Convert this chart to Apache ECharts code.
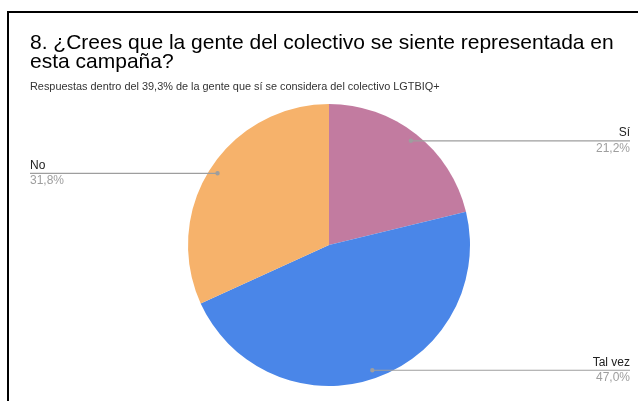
<!DOCTYPE html>
<html>
<head>
<meta charset="utf-8">
<script src="https://cdn.jsdelivr.net/npm/echarts@6/dist/echarts.min.js"></script>
<style>
  html, body { margin: 0; padding: 0; background: #fff; }
  #chart { width: 638px; height: 401px; }
</style>
</head>
<body>
<div id="chart"></div>
<script>
// Survey answers (share of respondents, %)
const categories = ['Sí', 'Tal vez', 'No'];
const values = [21.2, 47.0, 31.8];
const sliceColors = ['#c27ba0', '#4a86e8', '#f6b26b'];
// Which side each label sits on
const labelSides = ['right', 'right', 'left'];

const titleText = '8. ¿Crees que la gente del colectivo se siente representada en\nesta campaña?';
const subtitleText = 'Respuestas dentro del 39,3% de la gente que sí se considera del colectivo LGTBIQ+';

const FONT = '"Liberation Sans", Arial, sans-serif';
const CX = 329, CY = 245, R = 141;
const DOT_R = 0.94 * R;
const LEFT_EDGE = 30, RIGHT_EDGE = 630;
const LEADER_COLOR = '#9e9e9e';

const total = values.reduce((a, b) => a + b, 0);

// Anchor point of each leader line, placed at the slice's mid-angle
function anchorPoints() {
  let cum = 0;
  return values.map(v => {
    const mid = 90 - 360 * (cum + v / 2) / total;
    cum += v;
    const rad = mid * Math.PI / 180;
    return [CX + DOT_R * Math.cos(rad), CY - DOT_R * Math.sin(rad)];
  });
}
const anchors = anchorPoints();

function fmtPct(v) {
  return v.toFixed(1).replace('.', ',') + '%';
}

// Leader lines run horizontally from the anchor dot to the label edge, over the slices
const leaderGraphics = [];
anchors.forEach((p, i) => {
  const endX = labelSides[i] === 'right' ? RIGHT_EDGE : LEFT_EDGE;
  leaderGraphics.push({
    type: 'line',
    z: 100,
    shape: { x1: p[0], y1: p[1], x2: endX, y2: p[1] },
    style: { stroke: LEADER_COLOR, lineWidth: 1.2 }
  });
  leaderGraphics.push({
    type: 'circle',
    z: 101,
    shape: { cx: p[0], cy: p[1], r: 2.2 },
    style: { fill: LEADER_COLOR }
  });
});

const chart = echarts.init(document.getElementById('chart'), null, { renderer: 'canvas' });

chart.setOption({
  animation: false,
  backgroundColor: '#fff',
  title: [
    {
      text: titleText,
      left: 30,
      top: 34,
      padding: 0,
      textStyle: { fontFamily: FONT, fontSize: 21, fontWeight: 'normal', color: '#000', lineHeight: 19 }
    },
    {
      text: subtitleText,
      left: 30,
      top: 81,
      padding: 0,
      textStyle: { fontFamily: FONT, fontSize: 10.9, fontWeight: 'normal', color: '#333', lineHeight: 12 }
    }
  ],
  graphic: [
    {
      type: 'polyline',
      shape: { points: [[8, 401], [8, 12], [638, 12]] },
      style: { stroke: '#000', lineWidth: 2, fill: null }
    }
  ].concat(leaderGraphics),
  series: [
    {
      type: 'pie',
      center: [CX, CY],
      radius: R,
      startAngle: 90,
      clockwise: true,
      avoidLabelOverlap: false,
      data: categories.map((name, i) => ({
        name: name,
        value: values[i],
        itemStyle: { color: sliceColors[i] }
      })),
      itemStyle: { borderWidth: 0 },
      emphasis: { disabled: true },
      label: {
        show: true,
        position: 'outside',
        formatter: p => '{n|' + p.name + '}\n{v|' + fmtPct(values[p.dataIndex]) + '}',
        rich: {
          n: { fontFamily: FONT, fontSize: 12, color: '#222', lineHeight: 15, padding: [0, 0, 1, 0] },
          v: { fontFamily: FONT, fontSize: 12, color: '#9e9e9e', lineHeight: 15 }
        }
      },
      labelLine: { show: false },
      labelLayout: function (params) {
        const i = params.dataIndex;
        const p = anchors[i];
        const right = labelSides[i] === 'right';
        return {
          x: right ? RIGHT_EDGE : LEFT_EDGE,
          y: p[1],
          align: right ? 'right' : 'left',
          verticalAlign: 'middle'
        };
      }
    }
  ]
});
</script>
</body>
</html>
